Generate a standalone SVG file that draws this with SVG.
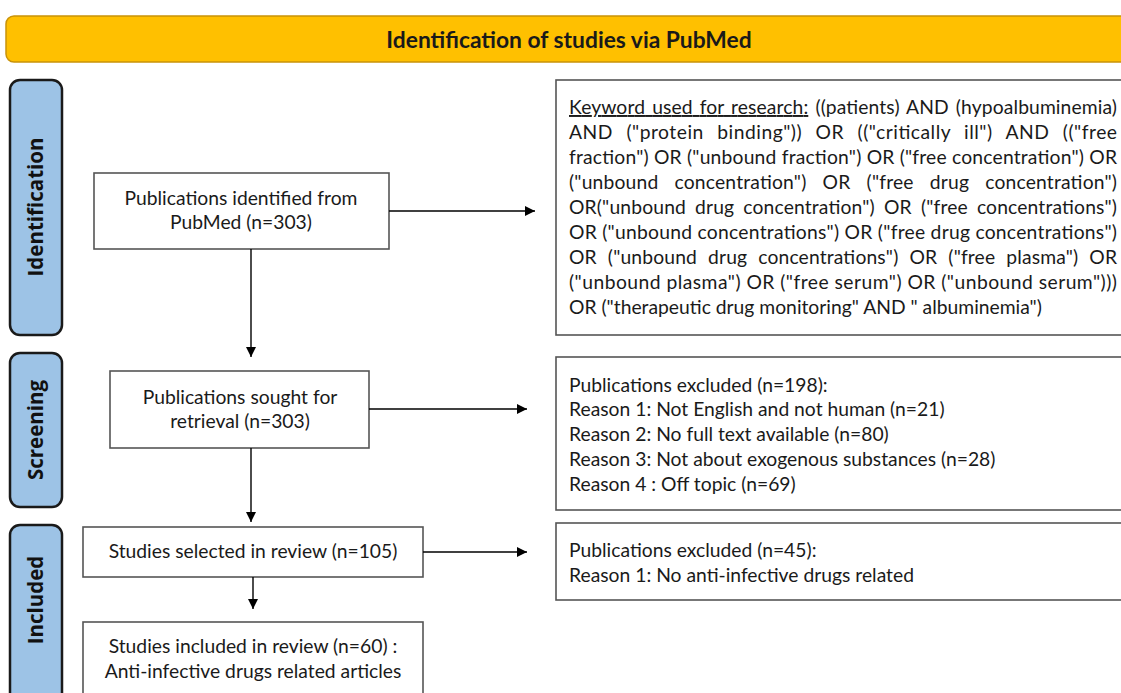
<svg xmlns="http://www.w3.org/2000/svg" width="1121" height="693" viewBox="0 0 1121 693">
<defs>
<marker id="ah" viewBox="0 0 10 10" refX="10" refY="5" markerWidth="10" markerHeight="10" markerUnits="userSpaceOnUse" orient="auto">
<path d="M0,0 L10,5 L0,10 Z" fill="#000"/>
</marker>
</defs>
<style>
.t{font-family:Lato,"Open Sans",sans-serif;font-size:19.3px;fill:#1a1a1a}
.c{text-anchor:middle}
.box{fill:#fff;stroke:#555;stroke-width:1.6}
.side{fill:#9DC3E6;stroke:#1a1a1a;stroke-width:2.5}
.st{font-family:"Open Sans",Lato,sans-serif;font-size:20.5px;font-weight:bold;fill:#111;text-anchor:middle}
.ln{stroke:#000;stroke-width:1.4;fill:none;marker-end:url(#ah)}
</style>
<rect width="1121" height="693" fill="#fff"/>
<g id="header">
<rect x="6" y="16" width="1130" height="46" rx="8" fill="#FFC000" stroke="#C99208" stroke-width="1.5"/>
<text x="569" y="48" class="t c" style="font-weight:bold;font-size:22.8px">Identification of studies via PubMed</text>
</g>
<g id="side-identification">
<rect x="10" y="80" width="52" height="255" rx="10" class="side"/>
<text class="st" transform="translate(43,207) rotate(-90)">Identification</text>
</g>
<g id="side-screening">
<rect x="10" y="353" width="52" height="154" rx="10" class="side"/>
<text class="st" transform="translate(43,430) rotate(-90)">Screening</text>
</g>
<g id="side-included">
<rect x="10" y="525" width="52" height="180" rx="10" class="side"/>
<text class="st" transform="translate(43,600) rotate(-90)">Included</text>
</g>
<g id="n-identified">
<rect x="94" y="173" width="295" height="76" class="box"/>
<text class="t c" x="241" y="205">Publications identified from</text>
<text class="t c" x="241" y="229">PubMed (n=303)</text>
</g>
<g id="n-keywords">
<rect x="556" y="80" width="580" height="255" class="box"/>
<text class="t" x="569" y="114" textLength="548" lengthAdjust="spacing" word-spacing="2"><tspan text-decoration="underline">Keyword used for research:</tspan> ((patients) AND (hypoalbuminemia)</text>
<text class="t" x="569" y="139" textLength="548" lengthAdjust="spacing" word-spacing="8">AND ("protein binding")) OR (("critically ill") AND (("free</text>
<text class="t" x="569" y="164" textLength="548" lengthAdjust="spacing">fraction") OR ("unbound fraction") OR ("free concentration") OR</text>
<text class="t" x="569" y="189" textLength="548" lengthAdjust="spacing" word-spacing="11">("unbound concentration") OR ("free drug concentration")</text>
<text class="t" x="569" y="214" textLength="548" lengthAdjust="spacing" word-spacing="4">OR("unbound drug concentration") OR ("free concentrations")</text>
<text class="t" x="569" y="239" textLength="548" lengthAdjust="spacing">OR ("unbound concentrations") OR ("free drug concentrations")</text>
<text class="t" x="569" y="264" textLength="548" lengthAdjust="spacing" word-spacing="6">OR ("unbound drug concentrations") OR ("free plasma") OR</text>
<text class="t" x="569" y="289" textLength="548" lengthAdjust="spacing">("unbound plasma") OR ("free serum") OR ("unbound serum")))</text>
<text class="t" x="569" y="314">OR ("therapeutic drug monitoring" AND " albuminemia")</text>
</g>
<g id="n-sought">
<rect x="110" y="371" width="259" height="77" class="box"/>
<text class="t c" x="240" y="404">Publications sought for</text>
<text class="t c" x="240" y="428">retrieval (n=303)</text>
</g>
<g id="n-excluded1">
<rect x="556" y="357" width="580" height="153" class="box"/>
<text class="t" x="569" y="392">Publications excluded (n=198):</text>
<text class="t" x="569" y="416">Reason 1: Not English and not human (n=21)</text>
<text class="t" x="569" y="441">Reason 2: No full text available (n=80)</text>
<text class="t" x="569" y="466">Reason 3: Not about exogenous substances (n=28)</text>
<text class="t" x="569" y="491">Reason 4 : Off topic (n=69)</text>
</g>
<g id="n-selected">
<rect x="83" y="527" width="340" height="50" class="box"/>
<text class="t c" x="253" y="558">Studies selected in review (n=105)</text>
</g>
<g id="n-excluded2">
<rect x="556" y="523" width="580" height="77" class="box"/>
<text class="t" x="569" y="557">Publications excluded (n=45):</text>
<text class="t" x="569" y="582">Reason 1: No anti-infective drugs related</text>
</g>
<g id="n-included">
<rect x="83" y="622" width="340" height="90" class="box"/>
<text class="t c" x="253" y="653">Studies included in review (n=60) :</text>
<text class="t c" x="253" y="678">Anti-infective drugs related articles</text>
</g>
<g id="connectors">
<line class="ln" x1="389" y1="211" x2="535" y2="211"/>
<line class="ln" x1="251" y1="249" x2="251" y2="357"/>
<line class="ln" x1="369" y1="409" x2="527" y2="409"/>
<line class="ln" x1="251" y1="448" x2="251" y2="522"/>
<line class="ln" x1="423" y1="552" x2="527" y2="552"/>
<line class="ln" x1="253" y1="577" x2="253" y2="609"/>
</g>
</svg>
